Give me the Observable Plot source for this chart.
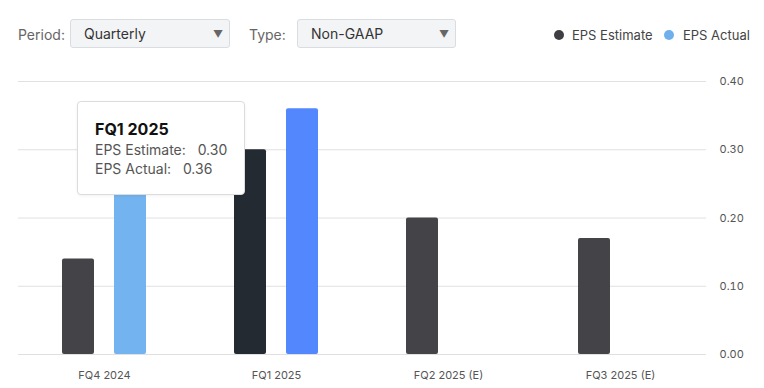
<!DOCTYPE html>
<html>
<head>
<meta charset="utf-8">
<script src="https://cdn.jsdelivr.net/npm/d3@7"></script>
<script src="https://cdn.jsdelivr.net/npm/@observablehq/plot@0.6"></script>
<style>
  body { margin: 0; background: #fff; font-family: Inter, "Noto Sans", sans-serif; }
  #wrap { position: relative; width: 764px; height: 388px; overflow: hidden; }
  #header { position: absolute; left: 0; top: 0; width: 764px; height: 60px; }
  .lbl { position: absolute; top: 26px; font-size: 14px; color: #666; line-height: 18px; }
  .sel { position: absolute; top: 19px; height: 29px; box-sizing: border-box; background: #f3f4f6;
         border: 1px solid #d9dce1; border-radius: 3px; font-size: 14px; color: #333; line-height: 28px; padding-left: 13px; }
  .sel .arr { position: absolute; right: 6px; top: 0; font-size: 10px; color: #666; }
  .leg { position: absolute; top: 26px; font-size: 13px; color: #444; line-height: 18px; }
  .dot { position: absolute; top: 30px; width: 10px; height: 10px; border-radius: 50%; }
  #chart { position: absolute; left: 0; top: 60px; }
  #tip { position: absolute; left: 77px; top: 101px; width: 168px; height: 94px; box-sizing: border-box;
         background: #fff; border: 1px solid #dcdcdc; border-radius: 4px; box-shadow: 0 1px 3px rgba(0,0,0,0.06);
         padding: 17px 0 0 17px; color: #555; }
  #tip .t { font-weight: 700; font-size: 16px; color: #111; line-height: 20px; margin-bottom: 1px; }
  #tip .r { font-size: 14px; line-height: 19px; white-space: pre; }
</style>
</head>
<body>
<div id="wrap">
  <div id="header">
    <div class="lbl" style="left:18px">Period:</div>
    <div class="sel" style="left:70px;width:160px">Quarterly<span class="arr">&#9660;</span></div>
    <div class="lbl" style="left:249px">Type:</div>
    <div class="sel" style="left:297px;width:159px">Non-GAAP<span class="arr">&#9660;</span></div>
    <div class="dot" style="left:554px;background:#3f3f43"></div>
    <div class="leg" style="left:572px">EPS Estimate</div>
    <div class="dot" style="left:664px;background:#6eb0ee"></div>
    <div class="leg" style="left:683px">EPS Actual</div>
  </div>
  <div id="chart"></div>
  <div id="tip"></div>
</div>
<script>
const quarters = ["FQ4 2024", "FQ1 2025", "FQ2 2025 (E)", "FQ3 2025 (E)"];
const estimates = [0.14, 0.30, 0.20, 0.17];
const actuals = [0.27, 0.36, null, null];
const series = ["EPS Estimate", "EPS Actual"];
const yTicks = [0, 0.1, 0.2, 0.3, 0.4];
const hovered = "FQ1 2025";

const colors = {
  "EPS Estimate": "#444347", "EPS Actual": "#72b3f0",
  "EPS Estimate hover": "#232a32", "EPS Actual hover": "#5387fd"
};

const rows = [];
quarters.forEach((q, i) => {
  rows.push({quarter: q, series: "EPS Estimate", value: estimates[i]});
  if (actuals[i] != null) rows.push({quarter: q, series: "EPS Actual", value: actuals[i]});
});

const plot = Plot.plot({
  width: 764,
  height: 328,
  marginTop: 21,
  marginBottom: 34,
  marginLeft: 17,
  marginRight: 58,
  style: {fontFamily: "Inter, 'Noto Sans', sans-serif", fontSize: "11px", color: "#555", background: "transparent"},
  fx: {domain: quarters, padding: 0, label: null},
  x: {domain: series, paddingInner: 0.385, paddingOuter: 0.83, axis: null},
  y: {domain: [0, 0.4], label: null},
  color: {type: "identity"},
  marks: [
    Plot.ruleY(yTicks, {stroke: "#e0e0e0", strokeWidth: 1}),
    Plot.barY(rows, {
      fx: "quarter", x: "series", y: "value",
      fill: d => colors[d.series + (d.quarter === hovered ? " hover" : "")],
      rx: 2
    }),
    Plot.axisY(yTicks, {anchor: "right", tickSize: 0, tickPadding: 13, tickFormat: d3.format(".2f"), fill: "#555", fontSize: 11}),
    Plot.axisFx({anchor: "bottom", tickSize: 0, tickPadding: 17, fill: "#555", fontSize: 11, label: null})
  ]
});
document.getElementById("chart").appendChild(plot);

const hi = quarters.indexOf(hovered);
document.getElementById("tip").innerHTML =
  `<div class="t">${hovered}</div>` +
  `<div class="r">EPS Estimate:   ${estimates[hi].toFixed(2)}</div>` +
  `<div class="r">EPS Actual:   ${actuals[hi].toFixed(2)}</div>`;
</script>
</body>
</html>
